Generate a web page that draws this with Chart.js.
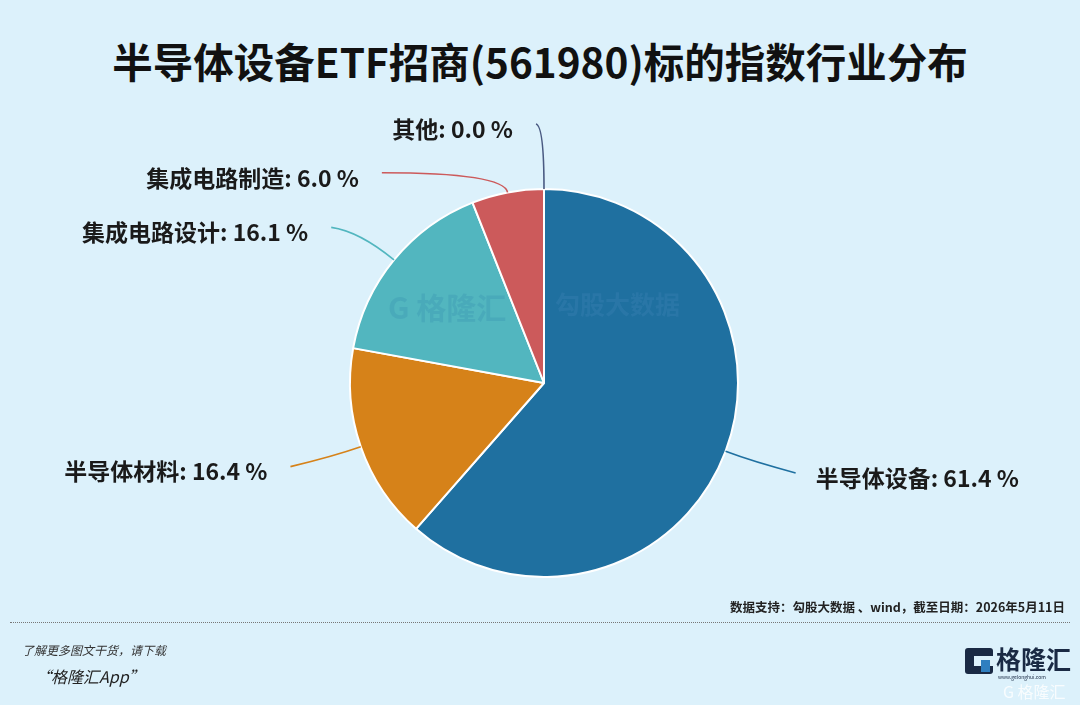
<!DOCTYPE html>
<html>
<head>
<meta charset="utf-8">
<script src="https://cdn.jsdelivr.net/npm/chart.js@4.4.1/dist/chart.umd.min.js"></script>
<style>
  html, body { margin: 0; padding: 0; }
  body { width: 1080px; height: 705px; background: #dcf1fb; position: relative; overflow: hidden;
         font-family: "Noto Sans CJK SC", "Noto Sans", sans-serif; }
  #title { position: absolute; left: 0; width: 1080px; top: 32px; text-align: center;
           font-size: 40.5px; font-weight: 700; color: #111; line-height: 58px; }
  #wrap { position: absolute; left: 0; top: 0; width: 1080px; height: 705px; }
  .wm { position: absolute; font-weight: 700; }
  #source { position: absolute; right: 15px; top: 597px; font-size: 12.5px; font-weight: 700; color: #222; }
  #dots { position: absolute; left: 10px; right: 10px; top: 622px; border-top: 1px dotted #777; }
  #more { position: absolute; left: 22px; top: 641px; font-size: 12px; font-style: italic; color: #333; }
  #app { position: absolute; left: 35px; top: 664px; font-size: 16px; font-style: italic; color: #222; }
  #logo { position: absolute; left: 965px; top: 648px; }
  #logoG { position: absolute; left: 0; top: 0; width: 28px; height: 26px; background: #1a2a44; border-radius: 3px; }
  #logoG2 { position: absolute; left: 9px; top: 8px; width: 19px; height: 10px; background: #dcf1fb; }
  #logoG3 { position: absolute; left: 16px; top: 12px; width: 9px; height: 12px; background: #2f7fc0; }
  #logoT { position: absolute; left: 31px; top: -8px; font-size: 25px; font-weight: 700; color: #1a2a44; white-space: nowrap; }
  #logoU { position: absolute; left: 33px; top: 25px; font-size: 5px; color: #1a2a44; white-space: nowrap; }
  #logoW { position: absolute; left: 38px; top: 31px; font-size: 16px; color: rgba(255,255,255,0.8); white-space: nowrap; }
</style>
</head>
<body>
<div id="title">半导体设备ETF招商(561980)标的指数行业分布</div>
<div id="wrap"><canvas id="chart" width="1080" height="705"></canvas></div>
<div class="wm" style="left:388px; top:284px; font-size:30px; color:rgba(31,111,160,0.16);">G 格隆汇</div>
<div class="wm" style="left:555px; top:285px; font-size:25px; color:rgba(90,150,200,0.18);">勾股大数据</div>
<div id="source">数据支持：勾股大数据 、wind，截至日期：2026年5月11日</div>
<div id="dots"></div>
<div id="more">了解更多图文干货，请下载</div>
<div id="app">“格隆汇App”</div>
<div id="logo">
  <div id="logoG"></div><div id="logoG2"></div><div id="logoG3"></div>
  <div id="logoT">格隆汇</div>
  <div id="logoU">www.gelonghui.com</div>
  <div id="logoW">G 格隆汇</div>
</div>
<script>
const categories = ["半导体设备", "半导体材料", "集成电路设计", "集成电路制造", "其他"];
const weights = [61.4, 16.4, 16.1, 6.0, 0.0];
const sliceColors = ["#1f70a0", "#d68219", "#52b6bf", "#cc5a5b", "#4a5a82"];

// leader line layout per slice: radial length, horizontal length, vertical shift
const lineLayout = [
  { len1: 30, len2: 42, dy: 11 },
  { len1: 30, len2: 42, dy: 10 },
  { len1: 45, len2: 28, dy: -4 },
  { len1: 20, len2: 122, dy: 0 },
  { len1: 63, len2: 8, dy: -2 }
];

const leaderLabels = {
  id: "leaderLabels",
  afterDatasetsDraw(chart) {
    const ctx = chart.ctx;
    const arcs = chart.getDatasetMeta(0).data;
    ctx.save();
    arcs.forEach((arc, i) => {
      const { x, y, startAngle, endAngle, outerRadius } = arc.getProps(["x", "y", "startAngle", "endAngle", "outerRadius"], true);
      const mid = (startAngle + endAngle) / 2;
      const c = Math.cos(mid), s = Math.sin(mid);
      const lay = lineLayout[i];
      const right = c > 0.001;
      const p0 = { x: x + outerRadius * c, y: y + outerRadius * s };
      const p1 = { x: x + (outerRadius + lay.len1) * c, y: y + (outerRadius + lay.len1) * s };
      const p2 = { x: p1.x + (right ? lay.len2 : -lay.len2), y: p1.y + lay.dy };
      ctx.strokeStyle = sliceColors[i];
      ctx.lineWidth = 1.6;
      ctx.beginPath();
      ctx.moveTo(p0.x, p0.y);
      ctx.quadraticCurveTo(p1.x, p1.y, p2.x, p2.y);
      ctx.stroke();
      ctx.fillStyle = "#1a1a1a";
      ctx.font = "700 23px 'Noto Sans CJK SC', 'Noto Sans', sans-serif";
      ctx.textBaseline = "middle";
      ctx.textAlign = right ? "left" : "right";
      const text = categories[i] + ": " + weights[i].toFixed(1) + " %";
      ctx.fillText(text, p2.x + (right ? 20 : -23), p2.y + 5);
    });
    ctx.restore();
  }
};

new Chart(document.getElementById("chart"), {
  type: "pie",
  data: {
    labels: categories,
    datasets: [{
      data: weights,
      backgroundColor: sliceColors,
      borderColor: "#ffffff",
      borderWidth: 2
    }]
  },
  options: {
    responsive: false,
    animation: false,
    layout: { padding: { top: 188, bottom: 127, left: 349, right: 341 } },
    plugins: {
      legend: { display: false },
      tooltip: { enabled: false }
    }
  },
  plugins: [leaderLabels]
});
</script>
</body>
</html>
